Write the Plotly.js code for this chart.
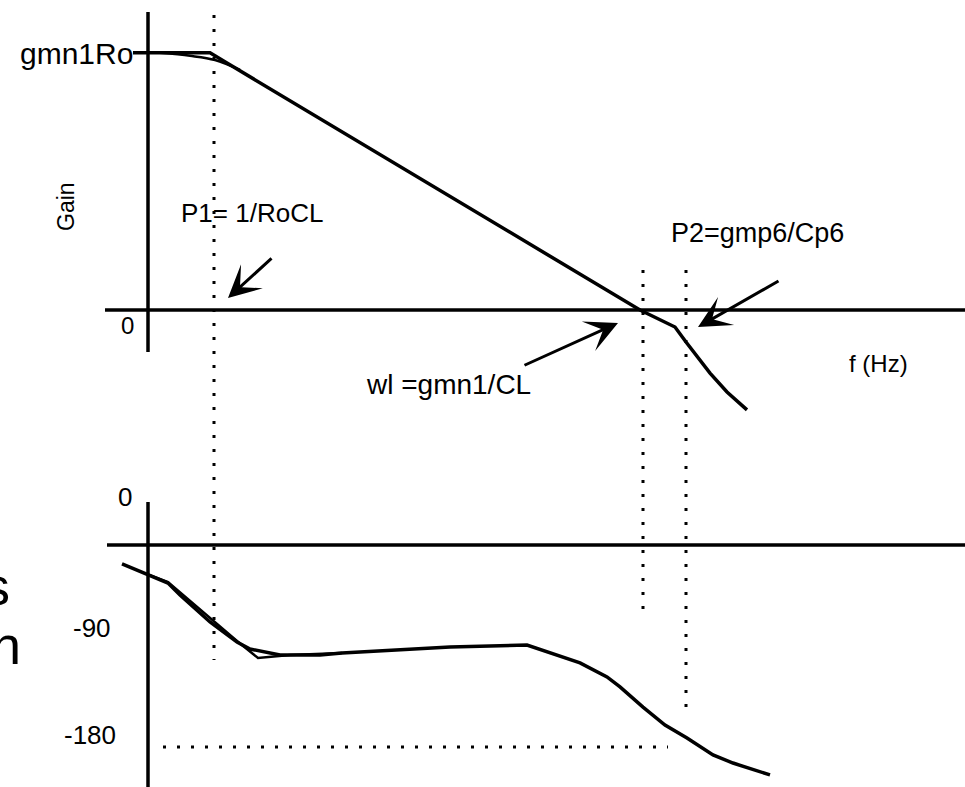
<!DOCTYPE html>
<html>
<head>
<meta charset="utf-8">
<script src="https://cdn.plot.ly/plotly-3.0.1.min.js"></script>
<style>html,body{margin:0;padding:0;background:#fff;}#chart{width:965px;height:787px;}</style>
</head>
<body>
<div id="chart"></div>
<script>
// ---- Data (x: log-frequency in decades from the gain axis; gain in dB; phase in degrees) ----
const gainFreq = [-0.15, 0.62, 0.79, 4.92, 5.27, 5.38, 5.62, 5.79, 5.99];
const gainDb   = [86.0, 86.0, 82.6, 0.0, -5.7, -10.7, -21.1, -27.4, -33.4];

const gainSmoothFreq = [0.12, 0.42, 0.67, 0.92];
const gainSmoothDb   = [86.0, 85.0, 83.6, 80.3];

const phaseFreq = [-0.26, 0.01, 0.20, 0.32, 0.62, 0.89, 1.02, 1.32, 1.72, 1.94, 3.02, 3.79, 4.02, 4.32, 4.59, 4.72, 4.95, 5.17, 5.39, 5.65, 5.85, 6.22];
const phaseDeg  = [-16.9, -26.7, -33.9, -44.6, -68.6, -86.4, -92.7, -98.0, -98.0, -96.2, -90.9, -89.1, -96.2, -105.1, -117.6, -126.5, -144.4, -160.4, -172.0, -187.1, -194.3, -204.9];

const phaseAsymFreq = [0.01, 0.20, 0.89, 1.10, 1.42, 1.94];
const phaseAsymDeg  = [-26.7, -33.0, -85.5, -100.7, -98.0, -96.2];

const markFreq   = [0.66, 4.95, 5.38];           // P1, wl, P2
const markLabels = ['P1= 1/RoCL', 'wl =gmn1/CL', 'P2=gmp6/Cp6'];
const gainTickVals   = [0, 86];
const gainTickText   = ['0', 'gmn1Ro'];
const phaseTickVals  = [0, -90, -180];
const phaseTickText  = ['0', '-90', '-180'];

// ---- Layout helpers ----
const W = 965, H = 787;
const px = v => v / W;            // paper x from pixel
const py = v => 1 - v / H;        // paper y from pixel
const FONT = 'Liberation Sans, Arial, Helvetica, sans-serif';
const LW = 3.5;

const traces = [
  {x: gainFreq, y: gainDb, xaxis: 'x', yaxis: 'y', mode: 'lines', line: {color: '#000', width: LW}},
  {x: gainSmoothFreq, y: gainSmoothDb, xaxis: 'x', yaxis: 'y', mode: 'lines', line: {color: '#000', width: 2.5, shape: 'spline'}},
  {x: phaseFreq, y: phaseDeg, xaxis: 'x', yaxis: 'y2', mode: 'lines', line: {color: '#000', width: LW}},
  {x: phaseAsymFreq, y: phaseAsymDeg, xaxis: 'x', yaxis: 'y2', mode: 'lines', line: {color: '#000', width: 2.5}}
];

const dotted = {color: '#000', width: 3, dash: '3px,11px'};
const solid = {color: '#000', width: 3.5};

const shapes = [
  // gain axes
  {type: 'line', xref: 'x', yref: 'paper', x0: 0, x1: 0, y0: py(12), y1: py(352), line: solid},
  {type: 'line', xref: 'paper', yref: 'y', x0: px(105), x1: 1, y0: 0, y1: 0, line: solid},
  // phase axes
  {type: 'line', xref: 'x', yref: 'paper', x0: 0, x1: 0, y0: py(502), y1: 0, line: solid},
  {type: 'line', xref: 'paper', yref: 'y2', x0: px(107), x1: 1, y0: 0, y1: 0, line: solid},
  // frequency markers
  {type: 'line', xref: 'x', yref: 'paper', x0: markFreq[0], x1: markFreq[0], y0: py(15), y1: py(660), line: dotted},
  {type: 'line', xref: 'x', yref: 'paper', x0: markFreq[1], x1: markFreq[1], y0: py(270), y1: py(612), line: dotted},
  {type: 'line', xref: 'x', yref: 'paper', x0: markFreq[2], x1: markFreq[2], y0: py(270), y1: py(716), line: dotted},
  // -180 reference
  {type: 'line', xref: 'x', yref: 'y2', x0: 0.15, x1: 5.2, y0: phaseTickVals[2], y1: phaseTickVals[2], line: dotted}
];

const txt = (text, x, y, size, xanchor, extra) => Object.assign({
  text: text, xref: 'paper', yref: 'paper', x: px(x), y: py(y), xanchor: xanchor || 'center', yanchor: 'middle',
  showarrow: false, font: {family: FONT, size: size, color: '#000'}
}, extra || {});

const arrow = (hx, hy, tx, ty) => ({
  text: '', xref: 'x', yref: 'y', axref: 'x', ayref: 'y', x: hx, y: hy, ax: tx, ay: ty,
  showarrow: true, arrowhead: 3, arrowsize: 1.8, arrowwidth: 3, arrowcolor: '#000', standoff: 0, startstandoff: 0
});

const annotations = [
  txt(gainTickText[1], 135, 53, 30, 'right'),
  txt(gainTickText[0], 127, 326, 24, 'center'),
  txt('Gain', 66, 207, 23, 'center', {textangle: -90}),
  txt(markLabels[0], 179, 213, 26, 'left'),
  txt(markLabels[2], 669, 233, 27, 'left'),
  txt(markLabels[1], 364, 384, 28, 'left'),
  txt('f (Hz)', 847, 363, 24, 'left'),
  txt(phaseTickText[0], 125, 497, 26, 'center'),
  txt(phaseTickText[1], 113, 628, 26, 'right'),
  txt(phaseTickText[2], 118, 735, 26, 'right'),
  txt('s', 12, 586, 54, 'right'),
  txt('h', 23, 645, 54, 'right'),
  arrow(0.80, 4.0, 1.25, 17.7),
  arrow(4.70, -4.35, 3.75, -18.7),
  arrow(5.50, -5.7, 6.32, 10.0)
];

const layout = {
  width: W, height: H, autosize: false,
  margin: {l: 0, r: 0, t: 0, b: 0, pad: 0},
  paper_bgcolor: '#fff', plot_bgcolor: '#fff',
  showlegend: false,
  xaxis: {range: [-1.48, 8.17], visible: false, fixedrange: true},
  yaxis: {range: [-159.53, 103.68], visible: false, fixedrange: true},
  yaxis2: {range: [-215.65, 485.65], visible: false, overlaying: 'y', fixedrange: true},
  shapes: shapes,
  annotations: annotations
};

Plotly.newPlot('chart', traces, layout, {staticPlot: true, displayModeBar: false});
</script>
</body>
</html>
